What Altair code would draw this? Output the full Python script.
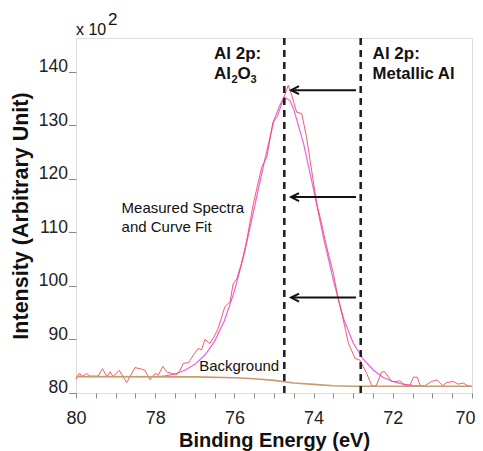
import altair as alt
import pandas as pd

FONT = "Liberation Sans"

# Measured spectrum (binding energy eV, intensity x100)
meas_x = [80.0, 79.92, 79.83, 79.73, 79.65, 79.44, 79.33, 79.22, 79.14, 79.06,
          78.91, 78.72, 78.51, 78.34, 78.26, 78.13, 78.0, 77.92, 77.81, 77.71,
          77.58, 77.46, 77.37, 77.29, 77.16, 77.04, 76.91, 76.83, 76.74, 76.62,
          76.49, 76.41, 76.24, 76.11, 76.03, 75.94, 75.82, 75.69, 75.52, 75.31,
          75.18, 75.03, 74.91, 74.76, 74.69, 74.64, 74.55, 74.43, 74.3, 74.18,
          74.05, 73.92, 73.8, 73.67, 73.5, 73.38, 73.25, 73.12, 72.95, 72.83,
          72.66, 72.53, 72.42, 72.28, 72.2, 72.03, 71.9, 71.82, 71.69, 71.57,
          71.48, 71.38, 71.31, 71.19, 71.02, 70.88, 70.74, 70.64, 70.47, 70.35,
          70.22, 70.13, 70.0]
meas_y = [82.5, 83.6, 83.1, 83.6, 83.1, 83.1, 84.5, 83.0, 83.9, 83.0,
          84.2, 81.9, 84.7, 84.4, 84.2, 82.4, 83.6, 83.3, 84.9, 83.9,
          83.6, 83.4, 84.2, 85.5, 85.6, 87.0, 88.3, 88.0, 90.0, 89.2,
          90.8, 92.0, 96.1, 97.0, 100.4, 101.3, 104.2, 108.5, 115.4, 122.2,
          124.1, 130.5, 131.8, 135.0, 136.5, 137.5, 135.6, 132.5, 132.2, 127.9,
          121.6, 115.4, 111.7, 107.3, 102.3, 97.6, 93.6, 89.2, 86.4, 86.1,
          83.6, 81.3, 81.3, 83.9, 83.9, 82.1, 82.1, 82.2, 81.4, 81.3,
          82.9, 82.9, 81.3, 81.3, 82.1, 82.4, 81.3, 81.9, 82.1, 81.6,
          81.8, 81.4, 81.1]

# Curve fit
fit_x = [77.9, 77.75, 77.5, 77.25, 77.0, 76.75, 76.5, 76.25, 76.0, 75.75,
         75.5, 75.25, 75.0, 74.85, 74.75, 74.6, 74.5, 74.25, 74.0, 73.75,
         73.5, 73.25, 73.0, 72.75, 72.5, 72.25, 72.0, 71.75, 71.5, 71.25]
fit_y = [83.0, 83.15, 83.5, 84.2, 85.3, 87.0, 89.6, 93.5, 99.0, 106.0,
         114.5, 123.0, 131.0, 133.8, 135.3, 134.7, 133.0, 126.5, 118.0, 109.0,
         101.0, 94.0, 89.3, 86.3, 84.3, 82.9, 82.1, 81.6, 81.35, 81.2]

# Background
bg_x = [80.0, 77.0, 76.0, 75.5, 75.0, 74.75, 74.5, 74.0, 73.5, 73.0, 70.0]
bg_y = [83.0, 82.95, 82.8, 82.6, 82.3, 82.05, 81.8, 81.55, 81.3, 81.2, 81.2]

peak_positions = [74.74, 72.81]
arrow_y = [136.6, 116.6, 97.8]
arrow_start = 72.93
arrow_tip = 74.57

x_ticks = [70 + 0.5 * i for i in range(21)]
y_ticks = [80, 90, 100, 110, 120, 130, 140]

xs = alt.Scale(domain=[70, 80], reverse=True, nice=False, zero=False)
ys = alt.Scale(domain=[79.94, 146.36], nice=False, zero=False)

X_AXIS = alt.Axis(values=x_ticks,
                  labelExpr="datum.value % 2 === 0 ? format(datum.value, 'd') : ''",
                  labelOverlap=False, labelFlush=False, tickSize=5, tickColor="#888",
                  labelAlign={"condition": {"test": "datum.value <= 70", "value": "right"},
                              "value": "center"},
                  labelOffset={"condition": {"test": "datum.value <= 70", "value": 3},
                               "value": 0},
                  domain=False, grid=False, labelFontSize=18, labelPadding=11,
                  labelColor="#222", labelFont=FONT,
                  title="Binding Energy (eV)", titleFontSize=20, titleFontWeight="bold",
                  titleFont=FONT, titleColor="#111", titleY=37, titleBaseline="top")
Y_AXIS = alt.Axis(values=y_ticks, tickSize=7.5, tickColor="#888", domain=False, grid=False,
                  labelFontSize=17.5, labelPadding=1, labelBaseline="alphabetic",
                  labelColor="#222", labelFont=FONT,
                  title="Intensity (Arbitrary Unit)", titleFontSize=21.5, titleFontWeight="bold",
                  titleFont=FONT, titleColor="#111", titleX=-48.3, titleY=177.5,
                  titleAngle=270, titleAlign="center", titleBaseline="alphabetic")


def ex(field="x"):
    return alt.X(f"{field}:Q", scale=xs, axis=X_AXIS)


def ey(field="y"):
    return alt.Y(f"{field}:Q", scale=ys, axis=Y_AXIS)


meas_df = pd.DataFrame({"x": meas_x, "y": meas_y})
fit_df = pd.DataFrame({"x": fit_x, "y": fit_y})
bg_df = pd.DataFrame({"x": bg_x, "y": bg_y})
peak_df = pd.DataFrame({"x": peak_positions})
arrow_df = pd.DataFrame({"x": [arrow_start] * 3, "x2": [arrow_tip] * 3, "y": arrow_y})

fit = alt.Chart(fit_df).mark_line(color="#e860e6", strokeWidth=1.2).encode(x=ex(), y=ey())
meas = alt.Chart(meas_df).mark_line(color="#f24a55", strokeWidth=1.0, opacity=0.9).encode(x=ex(), y=ey())
bg = alt.Chart(bg_df).mark_line(color="#c99a6e", strokeWidth=1.6).encode(x=ex(), y=ey())

dashes = alt.Chart(peak_df).mark_rule(color="#222", strokeWidth=2.6, strokeDash=[7, 5]).encode(x=ex())

shafts = alt.Chart(arrow_df).mark_rule(color="#111", strokeWidth=2).encode(
    x=ex(), x2="x2:Q", y=ey())
heads = alt.Chart(arrow_df).mark_point(shape="M 2 -1 L 0 0 L 2 1", size=64, filled=False,
                                       color="#111", strokeWidth=2, opacity=1).encode(
    x=ex("x2"), y=ey())


def label(x, y, s, size, weight="normal", dx=0, dy=0):
    df = pd.DataFrame({"x": [x], "y": [y], "t": [s]})
    return alt.Chart(df).mark_text(align="left", baseline="alphabetic", fontSize=size,
                                   fontWeight=weight, dx=dx, dy=dy, color="#111",
                                   font=FONT).encode(x=ex(), y=ey(), text="t:N")


texts = [
    label(76.515, 142.37, "Al 2p:", 17, "bold"),
    label(76.515, 138.64, "Al", 17, "bold"),
    label(76.515, 138.64, "2", 11, "bold", dx=17.5, dy=3.5),
    label(76.515, 138.64, "O", 17, "bold", dx=23.5),
    label(76.515, 138.64, "3", 11, "bold", dx=36.5, dy=3.5),
    label(72.51, 142.37, "Al 2p:", 17, "bold"),
    label(72.51, 138.64, "Metallic Al", 16.7, "bold"),
    label(78.85, 113.53, "Measured Spectra", 15),
    label(78.85, 110.09, "and Curve Fit", 15),
    label(76.89, 84.06, "Background", 15),
    label(80.0, 146.86, "x 10", 16),
    label(80.0, 146.86, "2", 17, dx=32, dy=-10),
]

chart = alt.layer(fit, meas, bg, dashes, shafts, heads, *texts).properties(
    width=396, height=355,
    autosize=alt.AutoSizeParams(type="none"),
    padding={"left": 68, "top": 30, "right": 3, "bottom": 58},
).configure_view(stroke="#999", strokeWidth=1).configure(font=FONT)

chart.save("out.html", embed_options={"renderer": "svg", "actions": False})
